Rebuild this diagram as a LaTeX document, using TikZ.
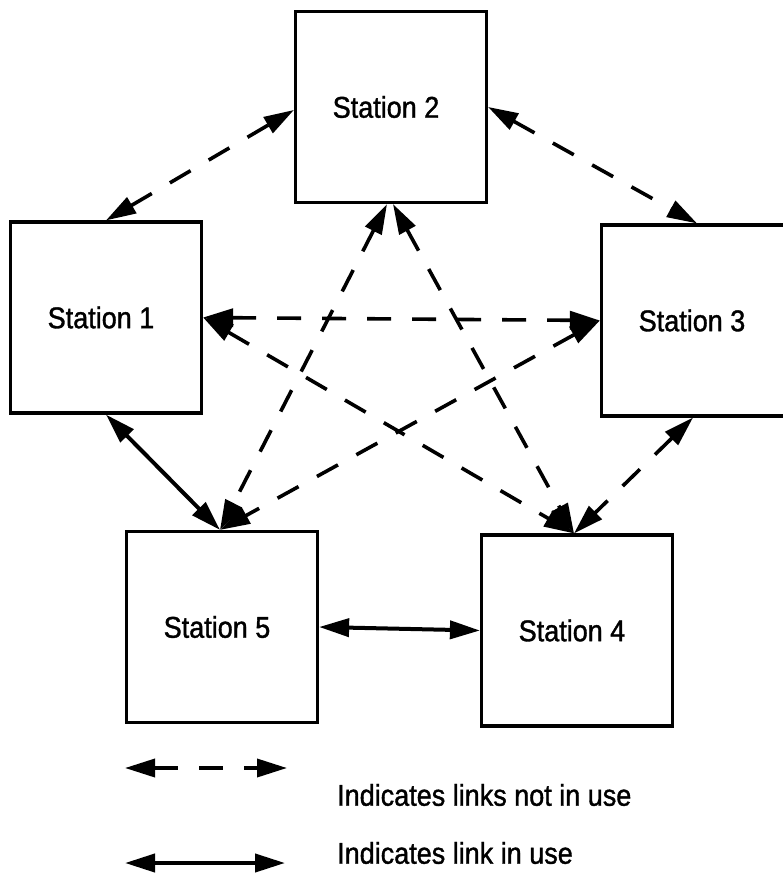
\documentclass[tikz,border=0pt]{standalone}
\usepackage{fontspec}
\newfontfamily\lab[FakeStretch=0.9,FakeBold=1.2]{Liberation Sans}
\usetikzlibrary{arrows.meta}
\begin{document}
\begin{tikzpicture}[x=1pt,y=-1pt,
  station/.style={draw=black,line width=3.2pt,fill=white,minimum width=191pt,minimum height=191pt,inner sep=0pt,
    font=\lab\fontsize{30}{36}\selectfont,execute at begin node={\hspace*{-10pt}}},
  unused/.style={line width=3.6pt,dash pattern=on 24pt off 21pt,{Triangle[length=30pt,width=18pt]}-{Triangle[length=30pt,width=18pt]}},
  used/.style={line width=4pt,{Triangle[length=30pt,width=18pt]}-{Triangle[length=30pt,width=18pt]}},
  legtext/.style={anchor=west,inner sep=0pt,font=\lab\fontsize{30}{36}\selectfont}]
\useasboundingbox (0,0) rectangle (783,874);
\clip (0,0) rectangle (783,874);
\fill[white] (0,0) rectangle (783,874);
\node[station] (s2) at (391,107) {Station 2};
\node[station] (s1) at (106,317.5) {Station 1};
\node[station] (s3) at (697,320.5) {Station 3};
\node[station] (s5) at (222,627) {Station 5};
\node[station] (s4) at (577,630.5) {Station 4};
% links not in use
\draw[unused] (s1.north) -- ([yshift=-3pt]s2.west);
\draw[unused] (s2.east) -- (s3.north);
\draw[unused] (s1.east) -- (s3.west);
\draw[unused] (s1.east) -- ([xshift=-3pt]s4.north);
\draw[unused] ([xshift=-4pt]s2.south) -- ([xshift=-2pt]s5.north);
\draw[unused] ([xshift=2pt]s2.south) -- ([xshift=-3pt]s4.north);
\draw[unused] (s3.west) -- ([xshift=-2pt]s5.north);
\draw[unused] ([xshift=-4pt]s3.south) -- ([xshift=-3pt]s4.north);
% links in use
\draw[used] (s1.south) -- ([xshift=-2pt]s5.north);
\draw[used] (s5.east) -- (s4.west);
% legend
\coordinate (la) at (125,768);
\coordinate (lb) at (287,768);
\coordinate (lc) at (125,863);
\coordinate (ld) at (285,863);
\draw[unused] (la) -- (lb);
\draw[used] (lc) -- (ld);
\node[legtext] (t1) at (337,795) {Indicates links not in use};
\node[legtext] (t2) at (337,853) {Indicates link in use};
\end{tikzpicture}
\end{document}
